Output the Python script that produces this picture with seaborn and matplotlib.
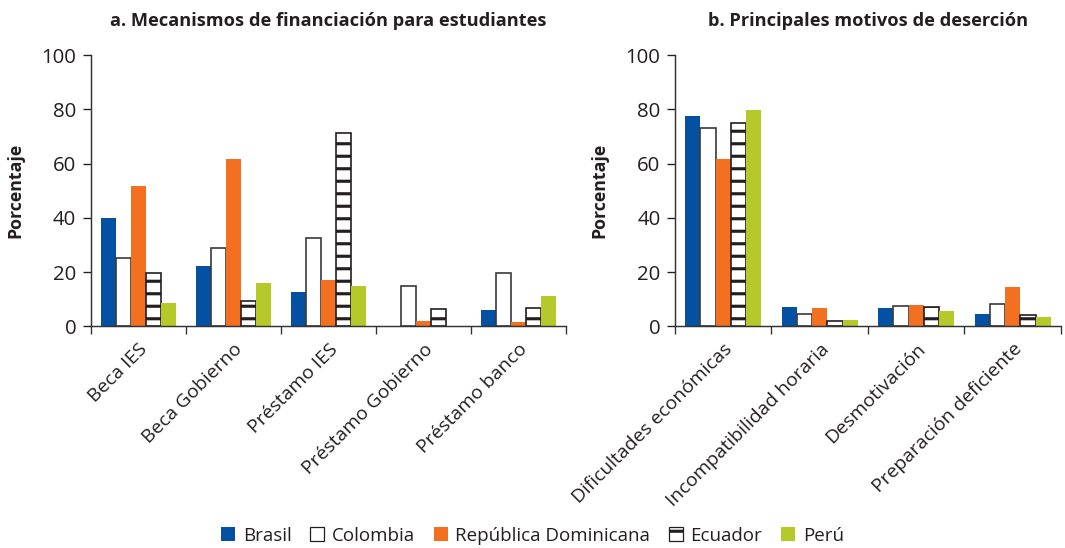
import pandas as pd
import matplotlib
matplotlib.use('Agg')
import matplotlib.pyplot as plt
from matplotlib.patches import Patch
from matplotlib.ticker import FixedLocator
import seaborn as sns

paises = ['Brasil', 'Colombia', 'República Dominicana', 'Ecuador', 'Perú']

mecanismos = ['Beca IES', 'Beca Gobierno', 'Préstamo IES',
              'Préstamo Gobierno', 'Préstamo banco']
brasil_a = [40.0, 22.2, 12.8, 0.0, 6.2]
colombia_a = [25.2, 28.9, 32.6, 14.9, 19.6]
rd_a = [51.8, 61.8, 17.2, 2.1, 1.6]
ecuador_a = [19.7, 9.5, 71.2, 6.5, 6.8]
peru_a = [8.5, 16.0, 14.8, 0.0, 11.3]

motivos = ['Dificultades económicas', 'Incompatibilidad horaria',
           'Desmotivación', 'Preparación deficiente']
brasil_b = [77.6, 7.2, 6.7, 4.7]
colombia_b = [73.2, 4.5, 7.5, 8.3]
rd_b = [61.6, 6.7, 8.0, 14.7]
ecuador_b = [74.8, 2.2, 7.2, 4.3]
peru_b = [79.7, 2.5, 5.6, 3.6]

colores = {'Brasil': '#0450a2', 'Colombia': '#ffffff',
           'República Dominicana': '#f37021', 'Ecuador': '#ffffff',
           'Perú': '#b6c92b'}
texto = '#231f20'


def to_long(cats, series):
    rows = []
    for pais, vals in zip(paises, series):
        for c, v in zip(cats, vals):
            rows.append({'cat': c, 'pais': pais, 'valor': v})
    return pd.DataFrame(rows)


df_a = to_long(mecanismos, [brasil_a, colombia_a, rd_a, ecuador_a, peru_a])
df_b = to_long(motivos, [brasil_b, colombia_b, rd_b, ecuador_b, peru_b])

sns.set_style('ticks')
plt.rcParams['font.family'] = ['Open Sans', 'DejaVu Sans']
plt.rcParams['hatch.linewidth'] = 3.0
plt.rcParams['hatch.color'] = texto

fig = plt.figure(figsize=(14.2, 7.3067), dpi=75)
ax_a = fig.add_axes([0.0854, 0.4042, 0.446, 0.4954])
ax_b = fig.add_axes([0.6338, 0.4042, 0.3624, 0.4954])


def draw(ax, df, cats, title):
    sns.barplot(data=df, x='cat', y='valor', hue='pais', order=cats,
                hue_order=paises, palette=colores, width=0.79, ax=ax,
                legend=False, saturation=1, errorbar=None)
    for pais, cont in zip(paises, ax.containers):
        for p in cont:
            if pais == 'Colombia':
                p.set_edgecolor('#3a3a3a')
                p.set_linewidth(1.6)
            elif pais == 'Ecuador':
                p.set_edgecolor(texto)
                p.set_linewidth(1.6)
                p.set_hatch('-')
            else:
                p.set_linewidth(0)
    ax.set_ylim(0, 100)
    ax.set_xlim(-0.5, len(cats) - 0.5)
    ax.set_yticks([0, 20, 40, 60, 80, 100])
    ax.tick_params(axis='y', labelsize=19.5, colors=texto, length=8,
                   width=1.3, pad=6)
    ax.tick_params(axis='x', which='major', length=0, labelsize=18.5,
                   colors=texto, pad=13)
    ax.xaxis.set_minor_locator(FixedLocator([i - 0.5 for i in range(len(cats) + 1)]))
    ax.tick_params(axis='x', which='minor', length=8, width=1.3, color='#333333')
    ax.set_xticks(range(len(cats)))
    ax.set_xticklabels(cats, rotation=45, ha='right', rotation_mode='anchor')
    for s in ['top', 'right']:
        ax.spines[s].set_visible(False)
    for s in ['left', 'bottom']:
        ax.spines[s].set_color('#333333')
        ax.spines[s].set_linewidth(1.4)
    ax.set_xlabel('')
    ax.set_ylabel('Porcentaje', fontsize=17, fontweight='bold', color=texto,
                  labelpad=16)
    ax.set_title(title, fontsize=17.5, fontweight='bold', color=texto, pad=28)


draw(ax_a, df_a, mecanismos, 'a. Mecanismos de financiación para estudiantes')
draw(ax_b, df_b, motivos, 'b. Principales motivos de deserción')

handles = []
for pais in paises:
    if pais == 'Colombia':
        h = Patch(facecolor='white', edgecolor=texto, linewidth=1.2)
    elif pais == 'Ecuador':
        h = Patch(facecolor='white', edgecolor=texto, linewidth=1.2, hatch='-')
    else:
        h = Patch(facecolor=colores[pais], edgecolor='none')
    handles.append(h)

fig.legend(handles, paises, loc='lower center', bbox_to_anchor=(0.5, -0.025),
           ncol=5, frameon=False, fontsize=18, handlelength=0.75,
           handleheight=0.75, handletextpad=0.4, columnspacing=1.0,
           labelcolor=texto)

fig.savefig('out.png', dpi=75)
